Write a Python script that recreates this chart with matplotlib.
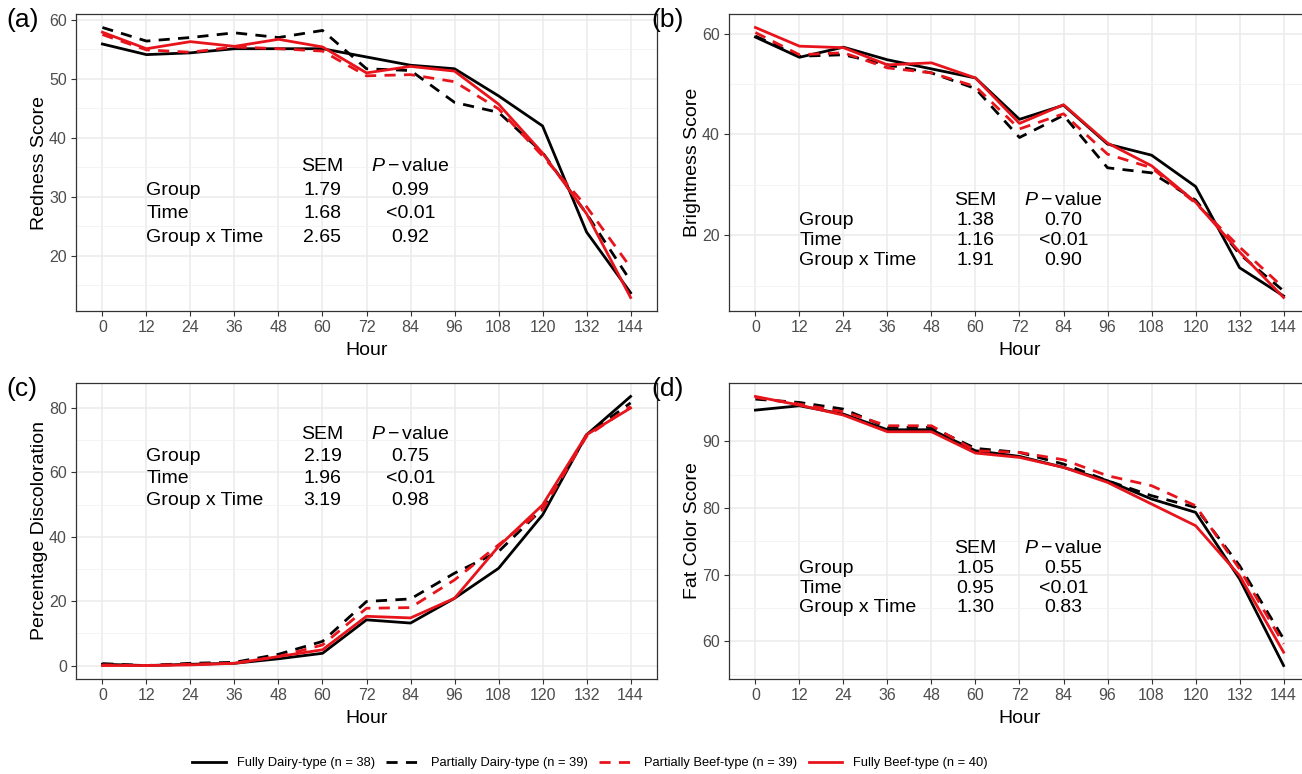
import matplotlib
matplotlib.use("Agg")
import matplotlib.pyplot as plt
from matplotlib.ticker import AutoMinorLocator

plt.rcParams['font.family'] = ['Liberation Sans', 'DejaVu Sans']
plt.rcParams['mathtext.fontset'] = 'custom'
plt.rcParams['mathtext.rm'] = 'Liberation Sans'
plt.rcParams['mathtext.it'] = 'Liberation Sans:italic'

# Data
hours = [0, 12, 24, 36, 48, 60, 72, 84, 96, 108, 120, 132, 144]
groups = ["Fully Dairy-type (n = 38)", "Partially Dairy-type (n = 39)",
          "Partially Beef-type (n = 39)", "Fully Beef-type (n = 40)"]

redness_fd = [55.9, 54.1, 54.4, 55.1, 55.1, 55.1, 53.7, 52.3, 51.7, 47.1, 42.0, 24.0, 13.7]
redness_pd = [58.7, 56.4, 57.0, 57.8, 57.0, 58.2, 51.7, 51.4, 46.0, 44.3, 37.5, 27.1, 15.7]
redness_pb = [57.5, 54.9, 54.5, 55.4, 55.1, 54.7, 50.5, 50.7, 49.5, 44.9, 36.9, 28.3, 18.0]
redness_fb = [57.9, 55.1, 56.3, 55.5, 56.7, 55.4, 51.0, 52.1, 51.3, 45.7, 37.4, 27.1, 12.9]

bright_fd = [59.3, 55.3, 57.3, 54.8, 53.0, 51.2, 43.0, 45.8, 38.1, 35.9, 29.7, 13.6, 8.0]
bright_pd = [59.5, 55.5, 55.8, 53.8, 52.2, 49.1, 39.4, 43.8, 33.4, 32.4, 27.0, 16.3, 9.0]
bright_pb = [60.2, 55.8, 56.2, 53.2, 52.2, 49.5, 41.1, 44.1, 36.1, 33.4, 26.4, 17.7, 9.6]
bright_fb = [61.2, 57.5, 57.2, 53.8, 54.2, 51.2, 42.2, 45.9, 38.3, 33.8, 26.6, 16.7, 7.7]

discol_fd = [0.4, 0.0, 0.4, 0.7, 2.1, 3.8, 14.2, 13.2, 20.9, 30.2, 46.8, 71.7, 83.6]
discol_pd = [0.6, 0.0, 0.7, 1.0, 3.5, 7.5, 19.9, 20.7, 28.7, 35.4, 48.7, 71.7, 81.6]
discol_pb = [0.2, 0.0, 0.4, 0.7, 2.8, 6.4, 17.8, 18.0, 26.6, 37.5, 48.4, 71.2, 80.5]
discol_fb = [0.0, 0.0, 0.2, 0.7, 2.8, 4.9, 15.3, 14.8, 20.9, 37.0, 49.9, 71.7, 80.0]

fat_fd = [94.7, 95.35, 94.1, 91.75, 91.75, 88.6, 87.75, 86.1, 84.1, 81.35, 79.35, 69.35, 56.35]
fat_pd = [96.35, 95.85, 94.85, 92.1, 92.1, 88.95, 88.35, 86.6, 84.1, 81.85, 80.1, 71.35, 60.35]
fat_pb = [96.6, 95.6, 94.45, 92.35, 92.35, 88.6, 88.35, 87.25, 84.85, 83.35, 80.35, 70.85, 59.6]
fat_fb = [96.75, 95.45, 93.95, 91.45, 91.45, 88.25, 87.6, 86.1, 83.85, 80.6, 77.35, 69.85, 58.35]

row_names = ["Group", "Time", "Group x Time"]
sem_a = ["1.79", "1.68", "2.65"]
pval_a = ["0.99", "<0.01", "0.92"]
sem_b = ["1.38", "1.16", "1.91"]
pval_b = ["0.70", "<0.01", "0.90"]
sem_c = ["2.19", "1.96", "3.19"]
pval_c = ["0.75", "<0.01", "0.98"]
sem_d = ["1.05", "0.95", "1.30"]
pval_d = ["0.55", "<0.01", "0.83"]

# text anchor rows (data y of header, row step)
table_y_a = (35.1, 4.0)
table_y_b = (27.0, 4.0)
table_y_c = (71.9, 6.9)
table_y_d = (73.85, 2.95)

red = '#e8141c'
styles = [dict(color='black', ls='-'), dict(color='black', ls=(0, (4, 3))),
          dict(color=red, ls=(0, (4, 3))), dict(color=red, ls='-')]

W, H = 1302, 774
fig = plt.figure(figsize=(W / 100, H / 100), dpi=100)


def box(l, t, r, b):
    return [l / W, 1 - b / H, (r - l) / W, (b - t) / H]


panels = [
    ("(a)", 6, box(76, 14, 657, 311), [redness_fd, redness_pd, redness_pb, redness_fb],
     "Redness Score", [20, 30, 40, 50, 60], sem_a, pval_a, table_y_a),
    ("(b)", 651, box(729, 14, 1310, 311), [bright_fd, bright_pd, bright_pb, bright_fb],
     "Brightness Score", [20, 40, 60], sem_b, pval_b, table_y_b),
    ("(c)", 6, box(76, 383, 657, 679), [discol_fd, discol_pd, discol_pb, discol_fb],
     "Percentage Discoloration", [0, 20, 40, 60, 80], sem_c, pval_c, table_y_c),
    ("(d)", 651, box(729, 383, 1310, 679), [fat_fd, fat_pd, fat_pb, fat_fb],
     "Fat Color Score", [60, 70, 80, 90], sem_d, pval_d, table_y_d),
]

lines = []
for tag, tag_x, rect, series, ylab, yticks, sem, pval, (y0, dy) in panels:
    ax = fig.add_axes(rect)
    lines = []
    for vals, st, name in zip(series, styles, groups):
        ln, = ax.plot(hours, vals, lw=2.0, label=name, **st)
        lines.append(ln)
    ax.set_xlim(-7.2, 151.2)
    ax.margins(y=0.05)
    ax.set_xticks(hours)
    ax.set_yticks(yticks)
    ax.yaxis.set_minor_locator(AutoMinorLocator(2))
    ax.grid(True, which='major', color='#ebebeb', lw=1.1, zorder=0)
    ax.grid(True, which='minor', axis='y', color='#f2f2f2', lw=0.6, zorder=0)
    ax.set_axisbelow(True)
    ax.tick_params(which='major', colors='#333333', labelcolor='#4d4d4d',
                   labelsize=11.5, length=3.5, width=0.8, pad=3)
    ax.tick_params(which='minor', length=0)
    for s in ax.spines.values():
        s.set_color('#333333')
        s.set_linewidth(0.9)
    ax.set_xlabel("Hour", fontsize=14, labelpad=5)
    ax.set_ylabel(ylab, fontsize=14, labelpad=1)

    ax.text(60, y0, "SEM", ha='center', va='center', fontsize=14)
    ax.text(84, y0, r"$P-\mathrm{value}$", ha='center', va='center', fontsize=14)
    for i in range(3):
        yy = y0 - dy * (i + 1)
        ax.text(12, yy, row_names[i], ha='left', va='center', fontsize=14)
        ax.text(60, yy, sem[i], ha='center', va='center', fontsize=14)
        ax.text(84, yy, pval[i], ha='center', va='center', fontsize=14)

    fig.text(tag_x / W, rect[1] + rect[3] - 6 / H, tag,
             fontsize=19, ha='left', va='center')

fig.legend(handles=lines, loc='center', bbox_to_anchor=(590 / W, 1 - 763 / H),
           ncol=4, frameon=False, fontsize=9.3, handlelength=2.6,
           handletextpad=0.85, columnspacing=0.9)

fig.savefig("out.png", dpi=100)
